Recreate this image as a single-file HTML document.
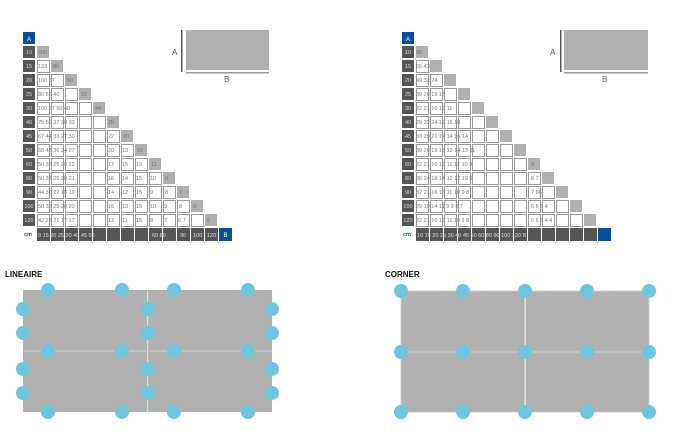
<!DOCTYPE html>
<html><head><meta charset="utf-8"><style>
body{margin:0;background:#fff;width:682px;height:435px;overflow:hidden}
svg{display:block;font-family:"Liberation Sans",sans-serif}
</style></head><body>
<svg width="682" height="435" viewBox="0 0 682 435">
<defs>
<pattern id="cL" patternUnits="userSpaceOnUse" x="37" y="46" width="14" height="14"><rect x="0.5" y="0.5" width="12" height="12" fill="#fff" stroke="#9a9a9a" stroke-width="1"/></pattern>
<pattern id="cR" patternUnits="userSpaceOnUse" x="416" y="46" width="14" height="14"><rect x="0.5" y="0.5" width="12" height="12" fill="#fff" stroke="#9a9a9a" stroke-width="1"/></pattern>
<pattern id="dk" patternUnits="userSpaceOnUse" x="37" y="228" width="14" height="14"><rect width="13" height="13" fill="#555"/></pattern>
<pattern id="dkR" patternUnits="userSpaceOnUse" x="416" y="228" width="14" height="14"><rect width="13" height="13" fill="#555"/></pattern>
</defs>

<!-- LEFT TABLE -->
<g>
<rect x="23" y="32" width="12" height="12" fill="#0a4f9e"/><text x="29" y="41" font-size="6" fill="#fff" text-anchor="middle">A</text>
<g fill="#555">
<rect x="23" y="46" width="12" height="12"/><rect x="23" y="60" width="12" height="12"/><rect x="23" y="74" width="12" height="12"/><rect x="23" y="88" width="12" height="12"/><rect x="23" y="102" width="12" height="12"/><rect x="23" y="116" width="12" height="12"/><rect x="23" y="130" width="12" height="12"/><rect x="23" y="144" width="12" height="12"/><rect x="23" y="158" width="12" height="12"/><rect x="23" y="172" width="12" height="12"/><rect x="23" y="186" width="12" height="12"/><rect x="23" y="200" width="12" height="12"/><rect x="23" y="214" width="12" height="12"/>
</g>
<g font-size="5.5" fill="#ddd" text-anchor="middle">
<text x="29" y="54">10</text><text x="29" y="68">15</text><text x="29" y="82">20</text><text x="29" y="96">25</text><text x="29" y="110">30</text><text x="29" y="124">40</text><text x="29" y="138">45</text><text x="29" y="152">50</text><text x="29" y="166">60</text><text x="29" y="180">80</text><text x="29" y="194">90</text><text x="29" y="208">100</text><text x="29" y="222">120</text>
</g>
<g fill="url(#cL)">
<rect x="37" y="60" width="14" height="13"/><rect x="37" y="74" width="28" height="13"/><rect x="37" y="88" width="42" height="13"/><rect x="37" y="102" width="56" height="13"/><rect x="37" y="116" width="70" height="13"/><rect x="37" y="130" width="84" height="13"/><rect x="37" y="144" width="98" height="13"/><rect x="37" y="158" width="112" height="13"/><rect x="37" y="172" width="126" height="13"/><rect x="37" y="186" width="140" height="13"/><rect x="37" y="200" width="154" height="13"/><rect x="37" y="214" width="168" height="13"/>
</g>
<g fill="#b0b0b0">
<rect x="37" y="46" width="12" height="12"/><rect x="51" y="60" width="12" height="12"/><rect x="65" y="74" width="12" height="12"/><rect x="79" y="88" width="12" height="12"/><rect x="93" y="102" width="12" height="12"/><rect x="107" y="116" width="12" height="12"/><rect x="121" y="130" width="12" height="12"/><rect x="135" y="144" width="12" height="12"/><rect x="149" y="158" width="12" height="12"/><rect x="163" y="172" width="12" height="12"/><rect x="177" y="186" width="12" height="12"/><rect x="191" y="200" width="12" height="12"/><rect x="205" y="214" width="12" height="12"/>
</g>
<g font-size="5.5" fill="#777">
<text x="38" y="54">200</text>
<text x="38" y="68">133</text><text x="53" y="68">89</text>
<text x="38" y="82">100 67</text><text x="67" y="82">50</text>
<text x="38" y="96">80 53 40</text><text x="81" y="96">32</text>
<text x="38" y="110">100 67 50 40</text><text x="95" y="110">44</text>
<text x="38" y="124">75 50 37 30 33</text><text x="108" y="124">25</text>
<text x="38" y="138">67 44 33 27 30</text><text x="108" y="138">22</text><text x="123" y="138">20</text>
<text x="38" y="152">60 45 36 24 27</text><text x="108" y="152">20</text><text x="122" y="152">13</text><text x="137" y="152">16</text>
<text x="38" y="166">50 33 25 20 22</text><text x="108" y="166">17</text><text x="122" y="166">15</text><text x="136" y="166">10</text><text x="151" y="166">11</text>
<text x="38" y="180">50 33 25 20 21</text><text x="108" y="180">16</text><text x="122" y="180">14</text><text x="136" y="180">15</text><text x="150" y="180">10</text><text x="165" y="180">9</text>
<text x="38" y="194">44 30 22 18 19</text><text x="108" y="194">14</text><text x="122" y="194">12</text><text x="136" y="194">15</text><text x="150" y="194">9</text><text x="165" y="194">8</text><text x="179" y="194">7</text>
<text x="38" y="208">50 33 25 20 20</text><text x="108" y="208">15</text><text x="122" y="208">13</text><text x="136" y="208">15</text><text x="150" y="208">10</text><text x="164" y="208">9</text><text x="179" y="208">8</text><text x="193" y="208">8</text>
<text x="38" y="222">42 28 21 17 17</text><text x="108" y="222">13</text><text x="122" y="222">11</text><text x="136" y="222">15</text><text x="150" y="222">8</text><text x="164" y="222">7</text><text x="178" y="222">6 7</text><text x="207" y="222">6</text>
</g>
<text x="24" y="236" font-size="5.5" fill="#0a4f9e" font-weight="bold">cm</text>
<rect x="37" y="228" width="182" height="13" fill="url(#dk)"/>
<rect x="219" y="228" width="13" height="13" fill="#0a4f9e"/>
<text x="225.5" y="237" font-size="6" fill="#fff" text-anchor="middle">B</text>
<g font-size="5.5" fill="#ddd">
<text x="38" y="237">0 15 20 25 30 40 45 50</text><text x="152" y="237">60 80</text><text x="180" y="237">90</text><text x="193" y="237">100</text><text x="207" y="237">120</text>
</g>
<!-- A/B box -->
<rect x="181" y="30" width="1.5" height="42" fill="#555"/>
<rect x="186" y="30" width="83" height="40" fill="#b0b0b0"/>
<rect x="186" y="72" width="83" height="1.5" fill="#999"/>
<text x="172" y="55" font-size="8" fill="#555">A</text>
<text x="224" y="82" font-size="8" fill="#6b6b3a">B</text>
</g>

<!-- RIGHT TABLE -->
<g>
<rect x="402" y="32" width="12" height="12" fill="#0a4f9e"/><text x="408" y="41" font-size="6" fill="#fff" text-anchor="middle">A</text>
<g fill="#555">
<rect x="402" y="46" width="12" height="12"/><rect x="402" y="60" width="12" height="12"/><rect x="402" y="74" width="12" height="12"/><rect x="402" y="88" width="12" height="12"/><rect x="402" y="102" width="12" height="12"/><rect x="402" y="116" width="12" height="12"/><rect x="402" y="130" width="12" height="12"/><rect x="402" y="144" width="12" height="12"/><rect x="402" y="158" width="12" height="12"/><rect x="402" y="172" width="12" height="12"/><rect x="402" y="186" width="12" height="12"/><rect x="402" y="200" width="12" height="12"/><rect x="402" y="214" width="12" height="12"/>
</g>
<g font-size="5.5" fill="#ddd" text-anchor="middle">
<text x="408" y="54">10</text><text x="408" y="68">15</text><text x="408" y="82">20</text><text x="408" y="96">25</text><text x="408" y="110">30</text><text x="408" y="124">40</text><text x="408" y="138">45</text><text x="408" y="152">50</text><text x="408" y="166">60</text><text x="408" y="180">80</text><text x="408" y="194">90</text><text x="408" y="208">100</text><text x="408" y="222">120</text>
</g>
<g fill="url(#cR)">
<rect x="416" y="60" width="14" height="13"/><rect x="416" y="74" width="28" height="13"/><rect x="416" y="88" width="42" height="13"/><rect x="416" y="102" width="56" height="13"/><rect x="416" y="116" width="70" height="13"/><rect x="416" y="130" width="84" height="13"/><rect x="416" y="144" width="98" height="13"/><rect x="416" y="158" width="112" height="13"/><rect x="416" y="172" width="126" height="13"/><rect x="416" y="186" width="140" height="13"/><rect x="416" y="200" width="154" height="13"/><rect x="416" y="214" width="168" height="13"/>
</g>
<g fill="#b0b0b0">
<rect x="416" y="46" width="12" height="12"/><rect x="430" y="60" width="12" height="12"/><rect x="444" y="74" width="12" height="12"/><rect x="458" y="88" width="12" height="12"/><rect x="472" y="102" width="12" height="12"/><rect x="486" y="116" width="12" height="12"/><rect x="500" y="130" width="12" height="12"/><rect x="514" y="144" width="12" height="12"/><rect x="528" y="158" width="12" height="12"/><rect x="542" y="172" width="12" height="12"/><rect x="556" y="186" width="12" height="12"/><rect x="570" y="200" width="12" height="12"/><rect x="584" y="214" width="12" height="12"/>
</g>
<g font-size="5.5" fill="#777">
<text x="416" y="54">98</text>
<text x="416" y="68">65 43</text>
<text x="416" y="82">49 32 24</text>
<text x="416" y="96">39 26 19 15</text>
<text x="416" y="110">32 21 16 13 11</text>
<text x="416" y="124">29 32 24 19 16 18</text>
<text x="416" y="138">33 29 21 17 14 16 14</text>
<text x="416" y="152">39 26 19 15 13 14 13 11</text>
<text x="416" y="166">32 21 16 13 11 12 10 9</text><text x="531" y="166">8</text>
<text x="416" y="180">36 24 18 14 12 12 10 9</text><text x="531" y="180">8 7</text>
<text x="416" y="194">32 21 16 13 11 10 9 8</text><text x="531" y="194">7 66</text>
<text x="416" y="208">29 19 14 11 9 9 8 7</text><text x="531" y="208">6 6 5 4</text>
<text x="416" y="222">32 21 16 13 11 10 9 8</text><text x="531" y="222">6 6 5 4 4</text>
</g>
<text x="403" y="236" font-size="5.5" fill="#0a4f9e" font-weight="bold">cm</text>
<rect x="416" y="228" width="182" height="13" fill="url(#dkR)"/>
<rect x="598" y="228" width="13" height="13" fill="#0a4f9e"/>
<g font-size="5.5" fill="#ddd">
<text x="417" y="237">10 15 20 25 30 40 45 50 60 80 90 100 120 B</text>
</g>
<rect x="560" y="30" width="1.5" height="42" fill="#555"/>
<rect x="564" y="30" width="84" height="40" fill="#b0b0b0"/>
<rect x="564" y="72" width="84" height="1.5" fill="#999"/>
<text x="550" y="55" font-size="8" fill="#555">A</text>
<text x="602" y="82" font-size="8" fill="#6b6b3a">B</text>
</g>

<!-- LINEAIRE -->
<text x="5" y="277" font-size="8" font-weight="bold" fill="#111">LINEAIRE</text>
<rect x="23" y="290" width="249" height="122" fill="#b0b0b0"/>
<rect x="147" y="290" width="1.2" height="122" fill="#ddd"/>
<rect x="23" y="350.5" width="249" height="1" fill="#ccc"/>
<g fill="#6ec6de">
<circle cx="48" cy="290" r="7"/><circle cx="122" cy="290" r="7"/><circle cx="174" cy="290" r="7"/><circle cx="248" cy="290" r="7"/>
<circle cx="48" cy="351" r="7"/><circle cx="122" cy="351" r="7"/><circle cx="174" cy="351" r="7"/><circle cx="248" cy="351" r="7"/>
<circle cx="48" cy="412" r="7"/><circle cx="122" cy="412" r="7"/><circle cx="174" cy="412" r="7"/><circle cx="248" cy="412" r="7"/>
<circle cx="23" cy="309" r="7"/><circle cx="23" cy="333" r="7"/><circle cx="23" cy="369" r="7"/><circle cx="23" cy="393" r="7"/>
<circle cx="148" cy="309" r="7"/><circle cx="148" cy="333" r="7"/><circle cx="148" cy="369" r="7"/><circle cx="148" cy="393" r="7"/>
<circle cx="272" cy="309" r="7"/><circle cx="272" cy="333" r="7"/><circle cx="272" cy="369" r="7"/><circle cx="272" cy="393" r="7"/>
</g>

<!-- CORNER -->
<text x="385" y="277" font-size="8" font-weight="bold" fill="#111">CORNER</text>
<rect x="401" y="291" width="248" height="121" fill="#b0b0b0" stroke="#ccc" stroke-width="1"/>
<rect x="524.5" y="291" width="1.2" height="121" fill="#eee"/>
<rect x="401" y="351.5" width="248" height="1" fill="#ccc"/>
<g fill="#6ec6de">
<circle cx="401" cy="291" r="7"/><circle cx="463" cy="291" r="7"/><circle cx="525" cy="291" r="7"/><circle cx="587" cy="291" r="7"/><circle cx="649" cy="291" r="7"/>
<circle cx="401" cy="352" r="7"/><circle cx="463" cy="352" r="7"/><circle cx="525" cy="352" r="7"/><circle cx="587" cy="352" r="7"/><circle cx="649" cy="352" r="7"/>
<circle cx="401" cy="412" r="7"/><circle cx="463" cy="412" r="7"/><circle cx="525" cy="412" r="7"/><circle cx="587" cy="412" r="7"/><circle cx="649" cy="412" r="7"/>
</g>
</svg>
</body></html>
